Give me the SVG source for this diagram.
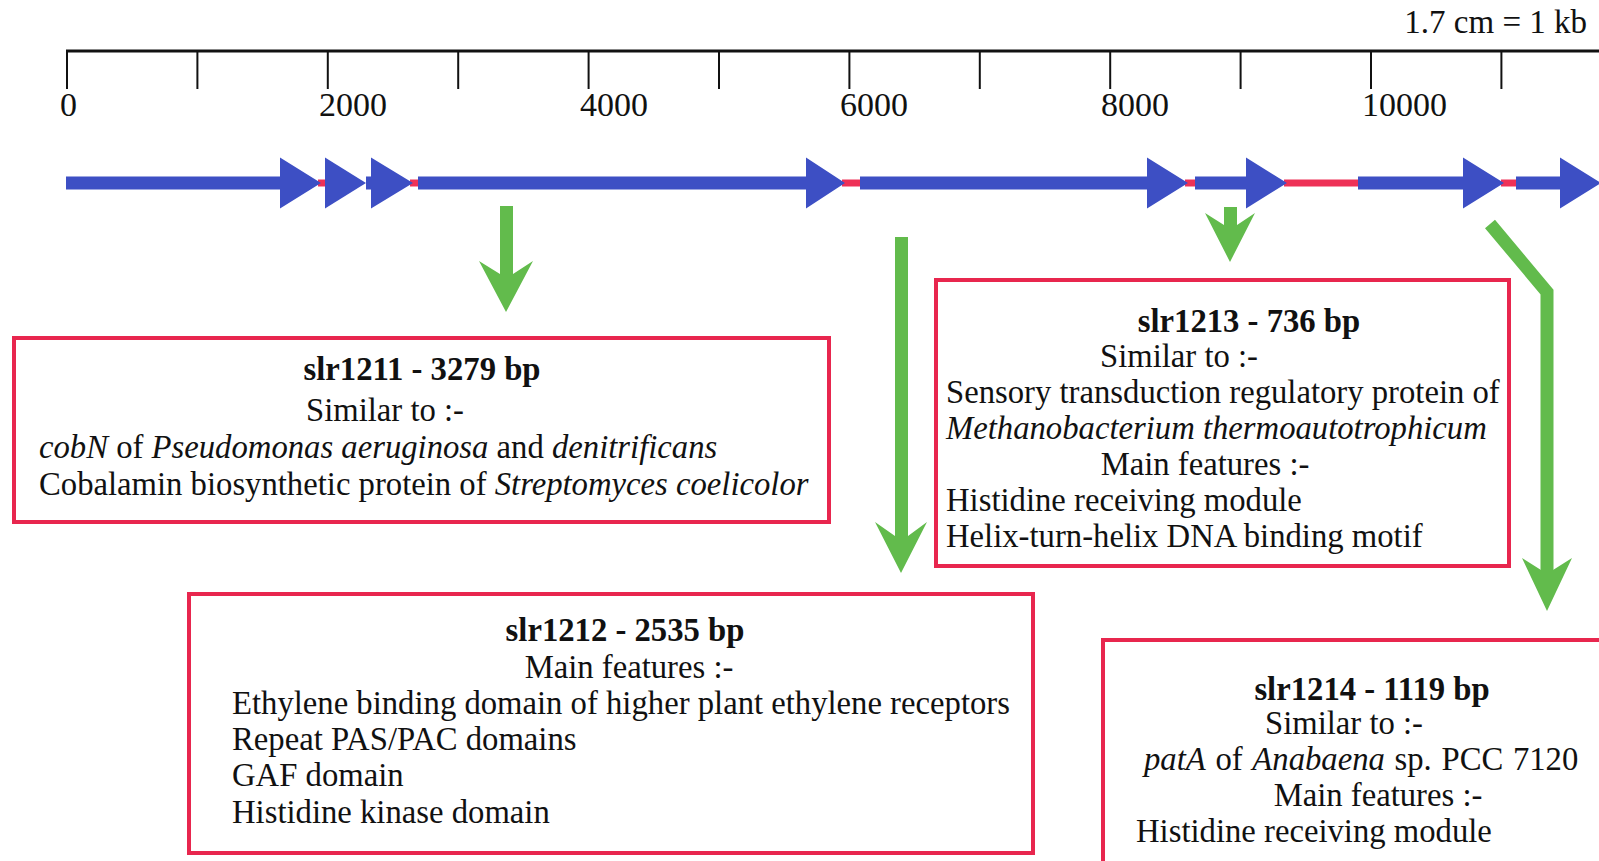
<svg xmlns="http://www.w3.org/2000/svg" width="1599" height="861" viewBox="0 0 1599 861">
<style>
text{font-family:"Liberation Serif","Times New Roman",serif;font-size:32.7px;fill:#111}
.b{font-weight:bold}
.i{font-style:italic}
.m{text-anchor:middle}
.n{font-size:34px}
.box{fill:#fff;stroke:#e8264e;stroke-width:4}
.gene{fill:#3d4fc4}
.ig{stroke:#ee3157;stroke-width:7}
.tick{stroke:#111;stroke-width:2}
.ga{fill:#62bb4c}
.gs{stroke:#62bb4c;stroke-width:13;fill:none}
</style>
<rect width="1599" height="861" fill="#fff"/>
<g id="scale">
<text x="1587" y="33" style="text-anchor:end;font-size:33px">1.7 cm = 1 kb</text>
<line x1="66" y1="51" x2="1599" y2="51" stroke="#111" stroke-width="3"/>
<g class="tick">
<line x1="67" y1="51" x2="67" y2="89"/><line x1="197.4" y1="51" x2="197.4" y2="89"/><line x1="327.8" y1="51" x2="327.8" y2="89"/><line x1="458.2" y1="51" x2="458.2" y2="89"/><line x1="588.6" y1="51" x2="588.6" y2="89"/><line x1="719" y1="51" x2="719" y2="89"/><line x1="849.4" y1="51" x2="849.4" y2="89"/><line x1="979.8" y1="51" x2="979.8" y2="89"/><line x1="1110.2" y1="51" x2="1110.2" y2="89"/><line x1="1240.6" y1="51" x2="1240.6" y2="89"/><line x1="1371" y1="51" x2="1371" y2="89"/><line x1="1501.4" y1="51" x2="1501.4" y2="89"/>
</g>
<text class="n" x="60" y="116">0</text>
<text class="n" x="319" y="116">2000</text>
<text class="n" x="580" y="116">4000</text>
<text class="n" x="840" y="116">6000</text>
<text class="n" x="1101" y="116">8000</text>
<text class="n" x="1362" y="116">10000</text>
</g>
<g id="track">
<g class="ig">
<line x1="318" y1="183" x2="327" y2="183"/><line x1="410" y1="183" x2="420" y2="183"/><line x1="842" y1="183" x2="862" y2="183"/><line x1="1185" y1="183" x2="1197" y2="183"/><line x1="1284" y1="183" x2="1360" y2="183"/><line x1="1501" y1="183" x2="1518" y2="183"/>
</g>
<g class="gene">
<polygon id="g1" points="66,176.5 280,176.5 280,157.5 321,183 280,208.5 280,189.5 66,189.5"/>
<polygon id="g2" points="325,157.5 366,183 325,208.5"/>
<polygon id="g3" points="366,176.5 371,176.5 371,157.5 413,183 371,208.5 371,189.5 366,189.5"/>
<polygon id="g4" points="418,176.5 806,176.5 806,157.5 845,183 806,208.5 806,189.5 418,189.5"/>
<polygon id="g5" points="860,176.5 1147,176.5 1147,157.5 1188,183 1147,208.5 1147,189.5 860,189.5"/>
<polygon id="g6" points="1195,176.5 1246,176.5 1246,157.5 1287,183 1246,208.5 1246,189.5 1195,189.5"/>
<polygon id="g7" points="1358,176.5 1463,176.5 1463,157.5 1504,183 1463,208.5 1463,189.5 1358,189.5"/>
<polygon id="g8" points="1516,176.5 1560,176.5 1560,157.5 1601,183 1560,208.5 1560,189.5 1516,189.5"/>
</g>
</g>
<g id="connectors">
<polygon class="ga" points="500,206 513,206 513,274 533,261 506,312 479,261 500,274"/>
<polygon class="ga" points="895,237 908,237 908,536 927,522 901,573 875,522 895,536"/>
<polygon class="ga" points="1224,207 1237,207 1237,225 1255,213 1230,262 1205,213 1224,225"/>
<path class="gs" d="M1490,224 L1547,292 L1547,572"/>
<polygon class="ga" points="1541,570 1553,570 1572,558 1547,611 1522,558"/>
</g>
<g id="slr1211">
<rect class="box" x="14" y="338" width="815" height="184"/>
<text class="b m" x="422" y="380">slr1211 - 3279 bp</text>
<text class="m" x="385" y="421">Similar to :-</text>
<text x="39" y="458"><tspan class="i">cobN</tspan> of <tspan class="i">Pseudomonas aeruginosa</tspan> and <tspan class="i">denitrificans</tspan></text>
<text x="39" y="495">Cobalamin biosynthetic protein of <tspan class="i">Streptomyces coelicolor</tspan></text>
</g>
<g id="slr1212">
<rect class="box" x="189" y="594" width="844" height="259"/>
<text class="b m" x="625" y="641">slr1212 - 2535 bp</text>
<text class="m" x="629" y="678">Main features :-</text>
<text x="232" y="714">Ethylene binding domain of higher plant ethylene receptors</text>
<text x="232" y="750">Repeat PAS/PAC domains</text>
<text x="232" y="786">GAF domain</text>
<text x="232" y="823">Histidine kinase domain</text>
</g>
<g id="slr1213">
<rect class="box" x="936" y="280" width="573" height="286"/>
<text class="b m" x="1249" y="332">slr1213 - 736 bp</text>
<text class="m" x="1179" y="367">Similar to :-</text>
<text x="946" y="403">Sensory transduction regulatory protein of</text>
<text class="i" x="946" y="439">Methanobacterium thermoautotrophicum</text>
<text class="m" x="1205" y="475">Main features :-</text>
<text x="946" y="511">Histidine receiving module</text>
<text x="946" y="547">Helix-turn-helix DNA binding motif</text>
</g>
<g id="slr1214">
<rect class="box" x="1103" y="640" width="510" height="240"/>
<text class="b m" x="1372" y="700">slr1214 - 1119 bp</text>
<text class="m" x="1344" y="734">Similar to :-</text>
<text x="1144" y="770" style="word-spacing:1.5px"><tspan class="i">patA</tspan> of <tspan class="i">Anabaena</tspan> sp. PCC 7120</text>
<text class="m" x="1378" y="806">Main features :-</text>
<text x="1136" y="842">Histidine receiving module</text>
</g>
</svg>
